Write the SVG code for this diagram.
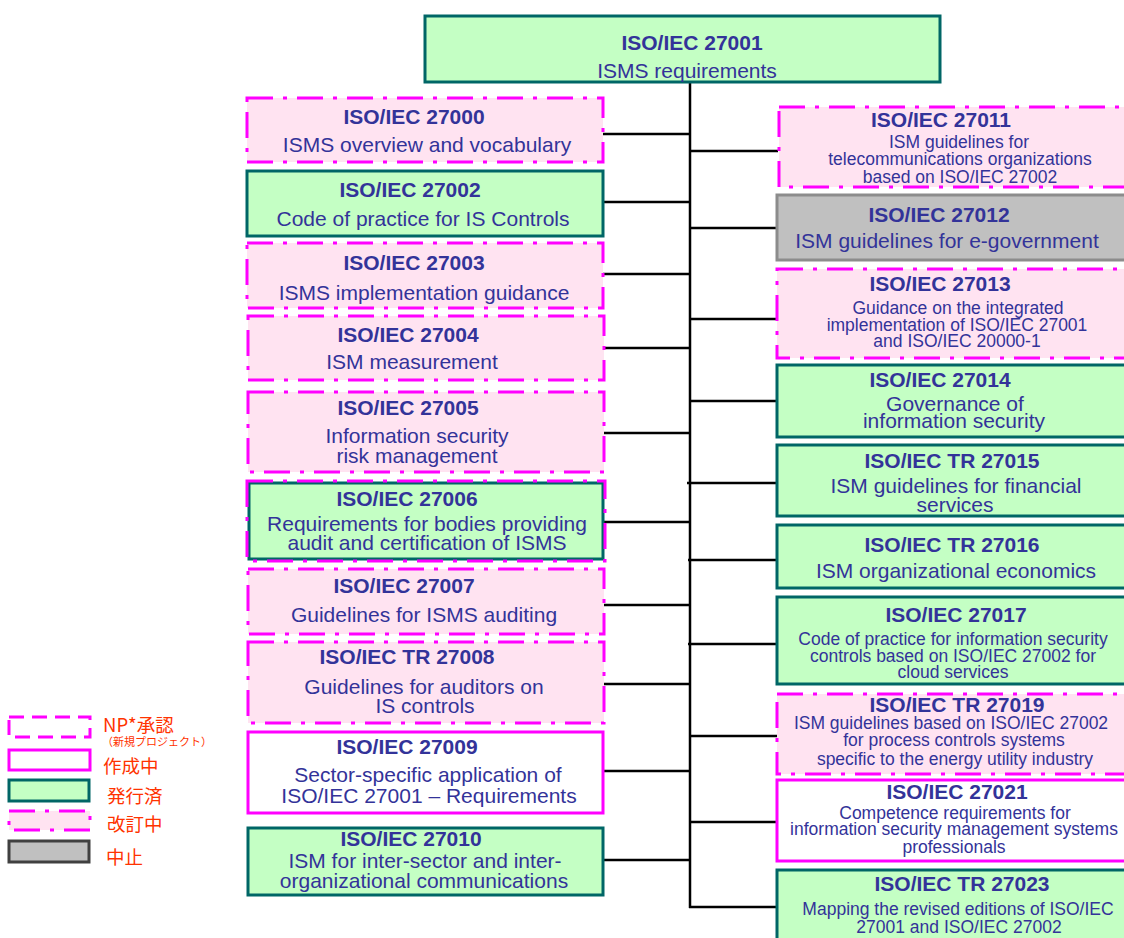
<svg xmlns="http://www.w3.org/2000/svg" width="1124" height="938" viewBox="0 0 1124 938">
<style>
text{font-family:"Liberation Sans",Arial,sans-serif;fill:#333399;text-anchor:middle}
.t{font-size:21px;font-weight:bold}
.s{font-size:21px}
.m{font-size:17.5px}
.pub{fill:#C4FFC4;stroke:#006666;stroke-width:3}
.rev{fill:#FFE3F1;stroke:#FF00FF;stroke-width:3;stroke-dasharray:26 10 4 10}
.revo{fill:none;stroke:#FF00FF;stroke-width:3;stroke-dasharray:26 10 4 10}
.wip{fill:#FFFFFF;stroke:#FF00FF;stroke-width:3}
.np{fill:#FFFFFF;stroke:#FF00FF;stroke-width:3;stroke-dasharray:15 8}
.stop{fill:#C0C0C0;stroke:#8C8C8C;stroke-width:3}
.stopl{fill:#C0C0C0;stroke:#404040;stroke-width:3}
.lg{font-family:"Noto Sans CJK JP","Liberation Sans",sans-serif;fill:#FF3300;text-anchor:start;font-size:18.5px}
.lgs{font-family:"Noto Sans CJK JP","Liberation Sans",sans-serif;fill:#FF3300;text-anchor:start;font-size:11px}
.c{stroke:#000;stroke-width:2.5;fill:none}
</style>

<g id="connectors">
<line class="c" x1="690" y1="82" x2="690" y2="908"/>
<line class="c" x1="603" y1="134" x2="690" y2="134"/>
<line class="c" x1="603" y1="202" x2="690" y2="202"/>
<line class="c" x1="603" y1="274" x2="690" y2="274"/>
<line class="c" x1="603" y1="348" x2="690" y2="348"/>
<line class="c" x1="604" y1="433" x2="690" y2="433"/>
<line class="c" x1="604" y1="522" x2="690" y2="522"/>
<line class="c" x1="604" y1="605" x2="690" y2="605"/>
<line class="c" x1="604" y1="684" x2="690" y2="684"/>
<line class="c" x1="603" y1="771" x2="690" y2="771"/>
<line class="c" x1="603" y1="860" x2="690" y2="860"/>
<line class="c" x1="690" y1="151" x2="778" y2="151"/>
<line class="c" x1="690" y1="228" x2="777" y2="228"/>
<line class="c" x1="690" y1="319" x2="777" y2="319"/>
<line class="c" x1="690" y1="401" x2="777" y2="401"/>
<line class="c" x1="687" y1="483" x2="777" y2="483"/>
<line class="c" x1="688" y1="560" x2="777" y2="560"/>
<line class="c" x1="688" y1="644" x2="777" y2="644"/>
<line class="c" x1="690" y1="736" x2="777" y2="736"/>
<line class="c" x1="690" y1="822" x2="777" y2="822"/>
<line class="c" x1="689" y1="907" x2="777" y2="907"/>
</g>

<g id="n27001">
<rect class="pub" x="425" y="16" width="515" height="66"/>
<text class="t" x="692" y="50">ISO/IEC 27001</text>
<text class="s" x="687" y="78">ISMS requirements</text>
</g>

<g id="n27000">
<rect class="rev" x="247" y="98" width="356" height="64"/>
<text class="t" x="414" y="124">ISO/IEC 27000</text>
<text class="s" x="427" y="152">ISMS overview and vocabulary</text>
</g>
<g id="n27002">
<rect class="pub" x="247" y="171" width="356" height="65"/>
<text class="t" x="410" y="197">ISO/IEC 27002</text>
<text class="s" x="423" y="226">Code of practice for IS Controls</text>
</g>
<g id="n27003">
<rect class="rev" x="247" y="243" width="356" height="65"/>
<text class="t" x="414" y="270">ISO/IEC 27003</text>
<text class="s" x="424" y="300">ISMS implementation guidance</text>
</g>
<g id="n27004">
<rect class="rev" x="248" y="316" width="356" height="64"/>
<text class="t" x="408" y="342">ISO/IEC 27004</text>
<text class="s" x="412" y="369">ISM measurement</text>
</g>
<g id="n27005">
<rect class="rev" x="248" y="392" width="356" height="80"/>
<text class="t" x="408" y="415">ISO/IEC 27005</text>
<text class="s" x="417" y="443">Information security</text>
<text class="s" x="417" y="463">risk management</text>
</g>
<g id="n27006">
<rect class="pub" x="249" y="483" width="354" height="76"/>
<rect class="revo" x="247" y="481" width="358" height="80"/>
<text class="t" x="407" y="506">ISO/IEC 27006</text>
<text class="s" x="427" y="531">Requirements for bodies providing</text>
<text class="s" x="427" y="550">audit and certification of ISMS</text>
</g>
<g id="n27007">
<rect class="rev" x="248" y="569" width="356" height="65"/>
<text class="t" x="404" y="593">ISO/IEC 27007</text>
<text class="s" x="424" y="622">Guidelines for ISMS auditing</text>
</g>
<g id="n27008">
<rect class="rev" x="248" y="642" width="356" height="81"/>
<text class="t" x="407" y="664">ISO/IEC TR 27008</text>
<text class="s" x="424" y="694">Guidelines for auditors on</text>
<text class="s" x="425" y="713">IS controls</text>
</g>
<g id="n27009">
<rect class="wip" x="248" y="732" width="355" height="81"/>
<text class="t" x="407" y="754">ISO/IEC 27009</text>
<text class="s" x="428" y="782">Sector-specific application of</text>
<text class="s" x="429" y="803">ISO/IEC  27001  – Requirements</text>
</g>
<g id="n27010">
<rect class="pub" x="248" y="828" width="355" height="67"/>
<text class="t" x="411" y="846">ISO/IEC 27010</text>
<text class="s" x="425" y="868">ISM for inter-sector and inter-</text>
<text class="s" x="424" y="888">organizational communications</text>
</g>

<g id="n27011">
<rect class="rev" x="779" y="107" width="360" height="80"/>
<text class="t" x="941" y="127">ISO/IEC 27011</text>
<text class="m" x="959" y="148">ISM guidelines for</text>
<text class="m" x="960" y="165">telecommunications  organizations</text>
<text class="m" x="960" y="183">based on ISO/IEC  27002</text>
</g>
<g id="n27012">
<rect class="stop" x="777" y="195" width="362" height="65"/>
<text class="t" x="939" y="222">ISO/IEC 27012</text>
<text class="s" x="947" y="248">ISM guidelines for e-government</text>
</g>
<g id="n27013">
<rect class="rev" x="777" y="269" width="362" height="89"/>
<text class="t" x="940" y="291">ISO/IEC 27013</text>
<text class="m" x="958" y="314">Guidance on the integrated</text>
<text class="m" x="957" y="331">implementation of ISO/IEC  27001</text>
<text class="m" x="957" y="347">and ISO/IEC  20000-1</text>
</g>
<g id="n27014">
<rect class="pub" x="777" y="365" width="362" height="72"/>
<text class="t" x="940" y="387">ISO/IEC 27014</text>
<text class="s" x="955" y="411">Governance of</text>
<text class="s" x="954" y="428">information security</text>
</g>
<g id="n27015">
<rect class="pub" x="777" y="445" width="362" height="71"/>
<text class="t" x="952" y="468">ISO/IEC TR 27015</text>
<text class="s" x="956" y="493">ISM guidelines for financial</text>
<text class="s" x="955" y="512">services</text>
</g>
<g id="n27016">
<rect class="pub" x="777" y="525" width="362" height="63"/>
<text class="t" x="952" y="552">ISO/IEC TR 27016</text>
<text class="s" x="956" y="578">ISM organizational economics</text>
</g>
<g id="n27017">
<rect class="pub" x="777" y="597" width="362" height="87"/>
<text class="t" x="956" y="622">ISO/IEC 27017</text>
<text class="m" x="953" y="645">Code of practice for information security</text>
<text class="m" x="953" y="662">controls based on ISO/IEC  27002 for</text>
<text class="m" x="953" y="678">cloud services</text>
</g>
<g id="n27019">
<rect class="rev" x="777" y="694" width="362" height="80"/>
<text class="t" x="957" y="712">ISO/IEC TR 27019</text>
<text class="m" x="951" y="729">ISM guidelines based on ISO/IEC  27002</text>
<text class="m" x="954" y="746">for process controls systems</text>
<text class="m" x="955" y="765">specific to the energy utility  industry</text>
</g>
<g id="n27021">
<rect class="wip" x="777" y="780" width="362" height="81"/>
<text class="t" x="957" y="799">ISO/IEC 27021</text>
<text class="m" x="955" y="819">Competence requirements for</text>
<text class="m" x="954" y="835">information security management systems</text>
<text class="m" x="954" y="853">professionals</text>
</g>
<g id="n27023">
<rect class="pub" x="777" y="870" width="362" height="80"/>
<text class="t" x="962" y="891">ISO/IEC TR 27023</text>
<text class="m" x="958" y="915">Mapping the revised editions of ISO/IEC</text>
<text class="m" x="959" y="933">27001 and ISO/IEC  27002</text>
</g>

<g id="legend">
<rect class="np" x="9" y="717" width="81" height="20"/>
<text class="lg" x="103" y="732">NP*承認</text>
<text class="lgs" x="102" y="746">（新規プロジェクト）</text>
<rect class="wip" x="9" y="750" width="81" height="20"/>
<text class="lg" x="103" y="773">作成中</text>
<rect class="pub" x="9" y="780" width="80" height="21"/>
<text class="lg" x="107" y="803">発行済</text>
<rect class="rev" x="9" y="811" width="81" height="19"/>
<text class="lg" x="107" y="831">改訂中</text>
<rect class="stopl" x="9" y="841" width="80" height="21"/>
<text class="lg" x="106" y="864">中止</text>
</g>
</svg>
